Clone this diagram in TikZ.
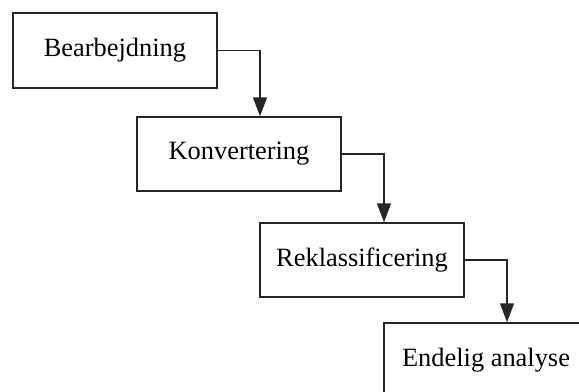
\documentclass[tikz,border=0pt]{standalone}
\usepackage{fontspec}
\setmainfont{Liberation Serif}
\usetikzlibrary{arrows.meta}
\begin{document}
\begin{tikzpicture}[x=1bp,y=-1bp,
  stage/.style={draw=black!85, line width=1.5bp, fill=white, minimum width=204bp, minimum height=74bp,
    inner sep=0pt, font=\fontsize{26.5}{31}\selectfont},
  flow/.style={draw=black!85, line width=1.5bp, -{Triangle[length=19bp,width=14bp]}}]
  \clip (0,0) rectangle (579,391);
  \fill[white] (0,0) rectangle (579,391);
  \node[stage, minimum height=75bp] (b1) at (115,50.5) {Bearbejdning};
  \node[stage] (b2) at (239,154) {Konvertering};
  \node[stage] (b3) at (362,260) {Reklassificering};
  \node[stage] (b4) at (486,360) {Endelig analyse};
  \draw[flow] (b1.east) -| ([xshift=21bp]b2.north);
  \draw[flow] (b2.east) -| ([xshift=22bp]b3.north);
  \draw[flow] (b3.east) -| ([xshift=21bp]b4.north);
\end{tikzpicture}
\end{document}
